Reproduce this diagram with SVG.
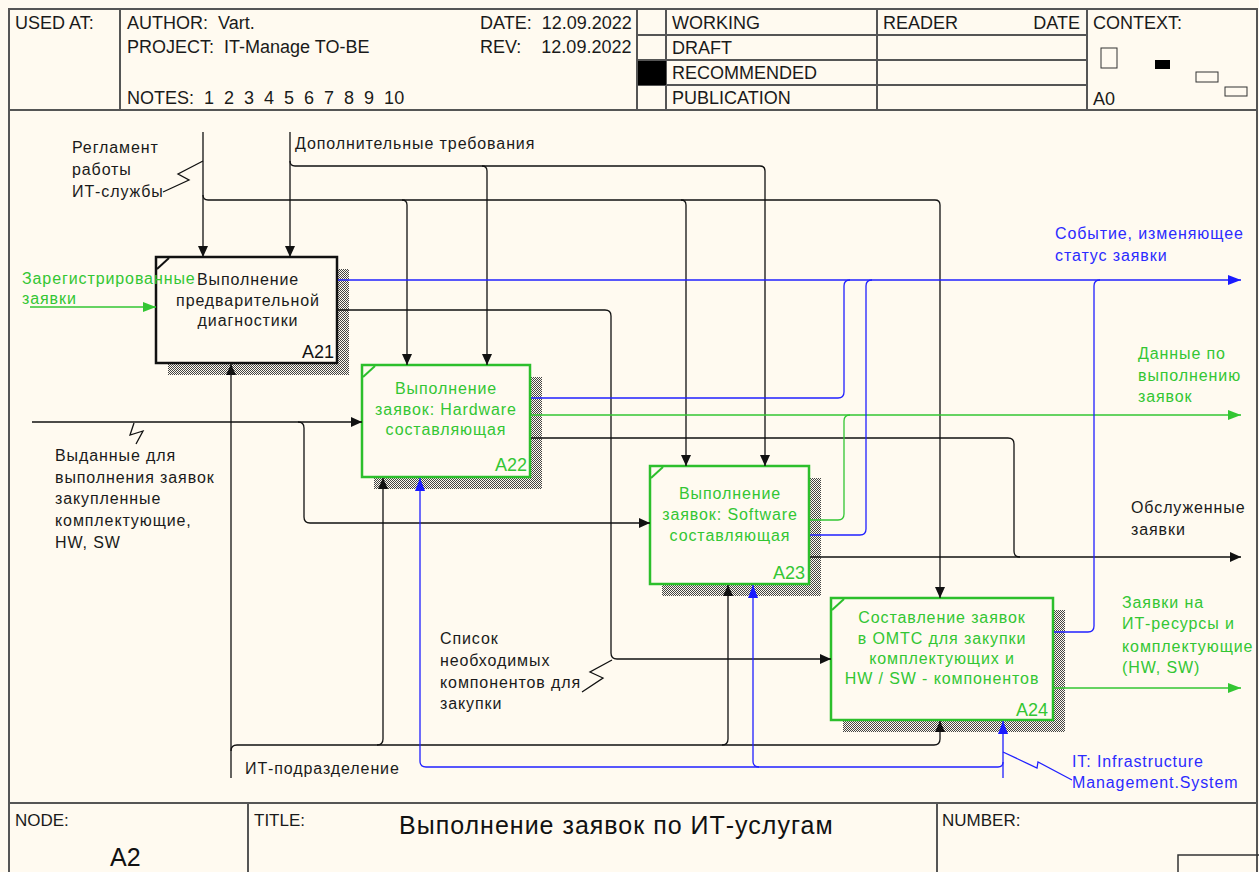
<svg xmlns="http://www.w3.org/2000/svg" width="1259" height="872" viewBox="0 0 1259 872">
<style>
text{font-family:"Liberation Sans",Arial,sans-serif;white-space:pre;}
.h{font-size:18px;fill:#1a1a1a;}
.f{font-size:17px;fill:#1a1a1a;}
.l{font-size:16px;letter-spacing:0.9px;fill:#1a1a1a;}
.g{font-size:16px;letter-spacing:0.9px;fill:#33c633;}
.b{font-size:16px;letter-spacing:0.9px;fill:#2b2bff;}
.bt{font-size:16px;letter-spacing:0.9px;fill:#1a1a1a;text-anchor:middle;}
.gt{font-size:16px;letter-spacing:0.9px;fill:#33c633;text-anchor:middle;}
.an{font-size:18px;text-anchor:end;}
.frame{fill:none;stroke:#555;stroke-width:2;}
.ck{fill:none;stroke:#111;stroke-width:1.3;}
.cg{fill:none;stroke:#33c633;stroke-width:1.3;}
.cb{fill:none;stroke:#2020ff;stroke-width:1.3;}
.ak{marker-end:url(#mk);}
.ag{marker-end:url(#mg);}
.ab{marker-end:url(#mb);}
.sh{fill:url(#dots);}
</style>
<defs>
<pattern id="dots" width="2" height="2" patternUnits="userSpaceOnUse">
<rect width="2" height="2" fill="#fffaf0"/>
<rect width="1" height="1" fill="#444"/>
<rect x="1" y="1" width="1" height="1" fill="#444"/>
</pattern>
<marker id="mk" markerUnits="userSpaceOnUse" markerWidth="12" markerHeight="12" refX="11" refY="6" orient="auto"><path d="M0,1 L11,6 L0,11 z" fill="#111"/></marker>
<marker id="mg" markerUnits="userSpaceOnUse" markerWidth="14" markerHeight="12" refX="13" refY="6" orient="auto"><path d="M0,1 L13,6 L0,11 z" fill="#33c633"/></marker>
<marker id="mb" markerUnits="userSpaceOnUse" markerWidth="14" markerHeight="12" refX="13" refY="6" orient="auto"><path d="M0,1 L13,6 L0,11 z" fill="#1a1aff"/></marker>
</defs>
<rect x="0" y="0" width="1259" height="872" fill="#fffaf0"/>

<g id="header">
<rect class="frame" x="9" y="9" width="1248" height="101"/>
<line class="frame" x1="120" y1="9" x2="120" y2="110"/>
<line class="frame" x1="637" y1="9" x2="637" y2="110"/>
<line class="frame" x1="666" y1="9" x2="666" y2="110"/>
<line class="frame" x1="877" y1="9" x2="877" y2="110"/>
<line class="frame" x1="1087" y1="9" x2="1087" y2="110"/>
<line class="frame" x1="637" y1="35" x2="1087" y2="35"/>
<line class="frame" x1="637" y1="60" x2="1087" y2="60"/>
<line class="frame" x1="637" y1="85" x2="1087" y2="85"/>
<rect x="638" y="61" width="28" height="24" fill="#000"/>
<text class="h" x="15" y="29">USED AT:</text>
<text class="h" x="127" y="29">AUTHOR:  Vart.</text>
<text class="h" x="127" y="53">PROJECT:  IT-Manage TO-BE</text>
<text class="h" x="127" y="104">NOTES:  1  2  3  4  5  6  7  8  9  10</text>
<text class="h" x="480" y="29">DATE:  12.09.2022</text>
<text class="h" x="480" y="53">REV:    12.09.2022</text>
<text class="h" x="672" y="29">WORKING</text>
<text class="h" x="672" y="54">DRAFT</text>
<text class="h" x="672" y="79">RECOMMENDED</text>
<text class="h" x="672" y="104">PUBLICATION</text>
<text class="h" x="883" y="29">READER</text>
<text class="h" x="1080" y="29" text-anchor="end">DATE</text>
<text class="h" x="1093" y="29">CONTEXT:</text>
<text class="h" x="1093" y="105">A0</text>
<rect x="1101" y="48" width="16" height="20" fill="none" stroke="#333" stroke-width="1"/>
<rect x="1155" y="60" width="15" height="9" fill="#000"/>
<rect x="1196" y="72" width="22" height="10" fill="none" stroke="#333" stroke-width="1"/>
<rect x="1225" y="87" width="22" height="9" fill="none" stroke="#333" stroke-width="1"/>
</g>

<g id="body-frame">
<line class="frame" x1="9" y1="110" x2="9" y2="872"/>
<line class="frame" x1="1257" y1="110" x2="1257" y2="872"/>
</g>

<g id="footer">
<line class="frame" x1="9" y1="803" x2="1257" y2="803"/>
<line class="frame" x1="248" y1="803" x2="248" y2="872"/>
<line class="frame" x1="937" y1="803" x2="937" y2="872"/>
<rect x="1178" y="855" width="82" height="20" fill="none" stroke="#333" stroke-width="1.5"/>
<text class="f" x="15" y="826">NODE:</text>
<text x="110" y="866" style="font-size:25px;fill:#111">A2</text>
<text class="f" x="254" y="826">TITLE:</text>
<text x="399" y="834" style="font-size:25px;letter-spacing:1px;fill:#111">Выполнение заявок по ИТ-услугам</text>
<text class="f" x="942" y="826">NUMBER:</text>
</g>

<g id="A21">
<rect class="sh" x="337" y="269" width="12" height="106"/>
<rect class="sh" x="168" y="363" width="169" height="12"/>
<rect x="156" y="257" width="181" height="106" fill="#fffaf0" stroke="#111" stroke-width="2.5"/>
<line x1="157" y1="269" x2="169" y2="258" stroke="#111" stroke-width="2"/>
<text class="bt" x="248" y="285">Выполнение</text>
<text class="bt" x="248" y="306">предварительной</text>
<text class="bt" x="248" y="326">диагностики</text>
<text class="an" x="334" y="358" fill="#111">A21</text>
</g>

<g id="A22">
<rect class="sh" x="530" y="377" width="12" height="112"/>
<rect class="sh" x="374" y="477" width="156" height="12"/>
<rect x="362" y="365" width="168" height="112" fill="#fffaf0" stroke="#2cbf2c" stroke-width="2.5"/>
<line x1="363" y1="377" x2="375" y2="366" stroke="#2cbf2c" stroke-width="2"/>
<text class="gt" x="446" y="394">Выполнение</text>
<text class="gt" x="446" y="415">заявок: Hardware</text>
<text class="gt" x="446" y="435">составляющая</text>
<text class="an" x="527" y="471" fill="#33c633">A22</text>
</g>

<g id="A23">
<rect class="sh" x="809" y="478" width="12" height="118"/>
<rect class="sh" x="662" y="584" width="147" height="12"/>
<rect x="650" y="466" width="159" height="118" fill="#fffaf0" stroke="#2cbf2c" stroke-width="2.5"/>
<line x1="651" y1="478" x2="663" y2="467" stroke="#2cbf2c" stroke-width="2"/>
<text class="gt" x="730" y="499">Выполнение</text>
<text class="gt" x="730" y="520">заявок: Software</text>
<text class="gt" x="730" y="541">составляющая</text>
<text class="an" x="805" y="579" fill="#33c633">A23</text>
</g>

<g id="A24">
<rect class="sh" x="1053" y="610" width="12" height="122"/>
<rect class="sh" x="843" y="720" width="210" height="12"/>
<rect x="831" y="598" width="222" height="122" fill="#fffaf0" stroke="#2cbf2c" stroke-width="2.5"/>
<line x1="832" y1="610" x2="844" y2="599" stroke="#2cbf2c" stroke-width="2"/>
<text class="gt" x="942" y="623">Составление заявок</text>
<text class="gt" x="942" y="644">в ОМТС для закупки</text>
<text class="gt" x="942" y="664">комплектующих и</text>
<text class="gt" x="942" y="684">HW / SW - компонентов</text>
<text class="an" x="1048" y="716" fill="#33c633">A24</text>
</g>

<g id="connectors">
<path class="ck ak" d="M203,132 V257"/>
<path class="ck ak" d="M203,195 Q203,200 208,200 H935 Q940,200 940,205 V598"/>
<path class="ck ak" d="M402,200 Q407,200 407,205 V365"/>
<path class="ck ak" d="M681,200 Q686,200 686,205 V466"/>
<path class="ck ak" d="M290,132 V257"/>
<path class="ck ak" d="M290,161 Q290,166 295,166 H760 Q765,166 765,171 V466"/>
<path class="ck ak" d="M482,166 Q487,166 487,171 V365"/>
<path class="cg ag" d="M30,307 H156"/>
<path class="cb ab" d="M338,280 H1241"/>
<path class="ck ak" d="M338,310 H605 Q611,310 611,316 V653 Q611,659 617,659 H831"/>
<path class="ck ak" d="M32,422 H362"/>
<path class="ck ak" d="M298,422 Q304,422 304,428 V517 Q304,523 310,523 H650"/>
<path class="cb" d="M531,398 H838 Q844,398 844,392 V286 Q844,280 850,280"/>
<path class="cg ag" d="M531,415 H1241"/>
<path class="ck" d="M531,438 H1008 Q1014,438 1014,444 V551 Q1014,557 1020,557"/>
<path class="cg" d="M810,520 H838 Q844,520 844,514 V421 Q844,415 850,415"/>
<path class="cb" d="M810,535 H860 Q866,535 866,529 V286 Q866,280 872,280"/>
<path class="ck ak" d="M810,557 H1241"/>
<path class="cb" d="M1054,632 H1088 Q1094,632 1094,626 V286 Q1094,280 1100,280"/>
<path class="cg ag" d="M1054,688 H1241"/>
<path class="ck ak" d="M231,778 V364"/>
<path class="ck ak" d="M231,751 Q231,745 237,745 H934 Q940,745 940,739 V721"/>
<path class="ck ak" d="M377,745 Q383,745 383,739 V478"/>
<path class="ck ak" d="M722,745 Q728,745 728,739 V585"/>
<path class="cb ab" d="M1003,778 V721"/>
<path class="cb ab" d="M1003,762 Q1003,767 998,767 H426 Q420,767 420,761 V478"/>
<path class="cb ab" d="M759,767 Q753,767 753,761 V585"/>
<path class="ck" d="M163,192 L189,180 L178,174 L203,161"/>
<path class="ck" d="M134,423 L130,435 L143,431 L136,444"/>
<path class="ck" d="M582,692 L603,678 L590,672 L612,660"/>
<path class="cb" d="M1072,780 L1038,762 L1037,768 L1003,752"/>
</g>

<g id="labels">
<text class="l" x="72" y="153">Регламент</text>
<text class="l" x="72" y="175">работы</text>
<text class="l" x="72" y="197">ИТ-службы</text>
<text class="l" x="295" y="149">Дополнительные требования</text>
<text class="g" x="22" y="284">Зарегистрированные</text>
<text class="g" x="22" y="304">заявки</text>
<text class="b" x="1055" y="239">Событие, изменяющее</text>
<text class="b" x="1055" y="261">статус заявки</text>
<text class="g" x="1138" y="359">Данные по</text>
<text class="g" x="1138" y="381">выполнению</text>
<text class="g" x="1138" y="402">заявок</text>
<text class="l" x="1131" y="513">Обслуженные</text>
<text class="l" x="1131" y="535">заявки</text>
<text class="g" x="1122" y="608">Заявки на</text>
<text class="g" x="1122" y="629">ИТ-ресурсы и</text>
<text class="g" x="1122" y="652">комплектующие</text>
<text class="g" x="1122" y="673">(HW, SW)</text>
<text class="b" x="1072" y="767">IT: Infrastructure</text>
<text class="b" x="1072" y="788">Management.System</text>
<text class="l" x="440" y="644">Список</text>
<text class="l" x="440" y="666">необходимых</text>
<text class="l" x="440" y="688">компонентов для</text>
<text class="l" x="440" y="709">закупки</text>
<text class="l" x="55" y="461">Выданные для</text>
<text class="l" x="55" y="483">выполнения заявок</text>
<text class="l" x="55" y="504">закупленные</text>
<text class="l" x="55" y="526">комплектующие,</text>
<text class="l" x="55" y="548">HW, SW</text>
<text class="l" x="245" y="774">ИТ-подразделение</text>
</g>
</svg>
